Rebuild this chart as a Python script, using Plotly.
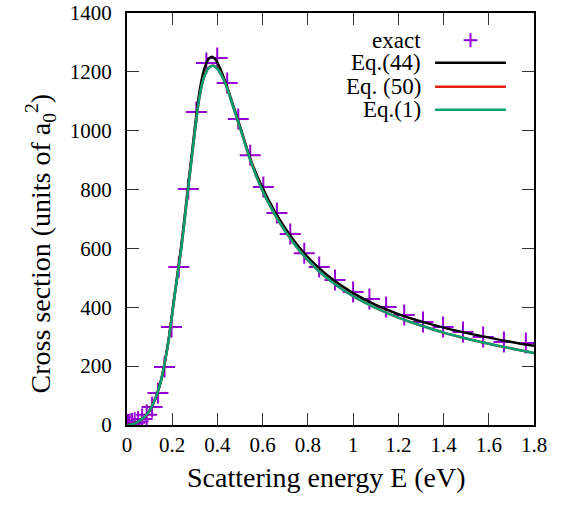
import plotly.graph_objects as go

# ---- data ----
exact_E = [0.0, 0.0014, 0.0054, 0.012, 0.022, 0.034, 0.049, 0.067, 0.087, 0.111, 0.137,
           0.166, 0.197, 0.229, 0.271, 0.307, 0.351, 0.399, 0.443, 0.492, 0.545, 0.603,
           0.663, 0.722, 0.784, 0.850, 0.920, 1.000, 1.072, 1.146, 1.226, 1.309, 1.398,
           1.486, 1.575, 1.667, 1.764]
exact_sigma = [0, 1, 2, 3, 5, 8, 12, 20, 35, 61, 109,
               197, 333, 537, 802, 1064, 1230, 1247, 1162, 1040, 917, 809,
               720, 649, 584, 537, 493, 452, 428, 401, 374, 350, 333,
               316, 299, 282, 279]

eq44_E = [0.0, 0.03, 0.06, 0.09, 0.12, 0.15, 0.18, 0.21, 0.24, 0.27, 0.30, 0.32, 0.34,
          0.36, 0.375, 0.39, 0.41, 0.44, 0.47, 0.50, 0.55, 0.60, 0.65, 0.70, 0.75, 0.80,
          0.85, 0.90, 0.95, 1.00, 1.10, 1.20, 1.30, 1.40, 1.50, 1.60, 1.70, 1.80]
eq44_sigma = [0, 4, 17, 38, 80, 150, 270, 440, 610, 810, 1010, 1130, 1205,
              1243, 1251, 1243, 1215, 1155, 1085, 1015, 895, 805, 730, 668, 615, 570,
              533, 500, 473, 448, 408, 377, 352, 331, 313, 297, 282, 269]

eq1_E = [0.0, 0.03, 0.06, 0.09, 0.12, 0.15, 0.18, 0.21, 0.24, 0.27, 0.30, 0.32, 0.34,
         0.36, 0.38, 0.40, 0.42, 0.44, 0.47, 0.50, 0.55, 0.60, 0.65, 0.70, 0.75, 0.80,
         0.85, 0.90, 0.95, 1.00, 1.10, 1.20, 1.30, 1.40, 1.50, 1.60, 1.70, 1.80]
eq1_sigma = [0, 4, 17, 38, 80, 150, 268, 435, 600, 800, 995, 1112, 1180,
             1212, 1221, 1210, 1185, 1150, 1080, 1010, 890, 795, 720, 658, 605, 560,
             522, 490, 462, 438, 398, 365, 338, 314, 294, 276, 260, 245]
eq50_sigma = [0, 4, 17, 38, 80, 150, 268, 435, 600, 800, 995, 1112, 1181,
              1213, 1222, 1211, 1186, 1150, 1080, 1010, 890, 795, 720, 658, 605, 560,
              522, 490, 462, 438, 398, 365, 338, 314, 294, 276, 260, 245]

x_ticks = [0, 0.2, 0.4, 0.6, 0.8, 1.0, 1.2, 1.4, 1.6, 1.8]
x_ticklabels = ["0", "0.2", "0.4", "0.6", "0.8", "1", "1.2", "1.4", "1.6", "1.8"]
y_ticks = [0, 200, 400, 600, 800, 1000, 1200, 1400]

legend_names = ["exact", "Eq.(44)", "Eq. (50)", "Eq.(1)"]
x_title = "Scattering energy E (eV)"
y_title = "Cross section (units of a<sub>0</sub><sup>2</sup>)"

PURPLE = "#9400d3"
BLACK = "#000000"
RED = "#e51e10"
GREEN = "#009e73"
FONT = "Liberation Serif, Times New Roman, serif"

fig = go.Figure()
fig.add_trace(go.Scatter(x=exact_E, y=exact_sigma, mode="markers", name=legend_names[0],
                         marker=dict(symbol="cross-thin", size=15,
                                     line=dict(color=PURPLE, width=2))))
fig.add_trace(go.Scatter(x=eq44_E, y=eq44_sigma, mode="lines", name=legend_names[1],
                         line=dict(color=BLACK, width=2.5, shape="spline")))
fig.add_trace(go.Scatter(x=eq1_E, y=eq50_sigma, mode="lines", name=legend_names[2],
                         line=dict(color=RED, width=2.5, shape="spline")))
fig.add_trace(go.Scatter(x=eq1_E, y=eq1_sigma, mode="lines", name=legend_names[3],
                         line=dict(color=GREEN, width=2.5, shape="spline")))

# ---- custom gnuplot-style legend (text right, sample on the right) ----
leg_y = [0.934, 0.879, 0.821, 0.765]
leg_colors = [PURPLE, BLACK, RED, GREEN]
for i, name in enumerate(legend_names):
    fig.add_annotation(x=0.728, y=leg_y[i], xref="paper", yref="paper",
                       text=name, showarrow=False, xanchor="right", yanchor="middle",
                       font=dict(family=FONT, size=23, color="black"))
    if i == 0:
        fig.add_shape(type="line", xref="paper", yref="paper",
                      x0=0.844 - 0.017, x1=0.844 + 0.017, y0=leg_y[i], y1=leg_y[i],
                      line=dict(color=PURPLE, width=2))
        fig.add_shape(type="line", xref="paper", yref="paper",
                      x0=0.844, x1=0.844, y0=leg_y[i] - 0.017, y1=leg_y[i] + 0.017,
                      line=dict(color=PURPLE, width=2))
    else:
        fig.add_shape(type="line", xref="paper", yref="paper",
                      x0=0.757, x1=0.931, y0=leg_y[i], y1=leg_y[i],
                      line=dict(color=leg_colors[i], width=2.5))

# axis titles
fig.add_annotation(x=0.491, y=-0.128, xref="paper", yref="paper", text=x_title,
                   showarrow=False, xanchor="center", yanchor="middle",
                   font=dict(family=FONT, size=28, color="black"))
fig.add_annotation(x=-0.212, y=0.44, xref="paper", yref="paper", text=y_title,
                   showarrow=False, xanchor="center", yanchor="middle", textangle=-90,
                   font=dict(family=FONT, size=28, color="black"))

axis_common = dict(showline=True, linecolor="black", linewidth=2, mirror="allticks",
                   ticks="inside", ticklen=12, tickwidth=1.2, tickcolor="#333",
                   showgrid=False, zeroline=False, automargin=False,
                   ticklabeloverflow="allow",
                   tickfont=dict(family=FONT, size=21, color="black"))

fig.update_layout(
    width=562, height=505,
    margin=dict(l=126.5, r=28, t=13, b=80),
    paper_bgcolor="white", plot_bgcolor="white",
    showlegend=False,
    font=dict(family=FONT, size=21, color="black"),
    xaxis=dict(range=[0, 1.8], tickmode="array", tickvals=x_ticks, ticktext=x_ticklabels,
               ticklabelstandoff=0, **axis_common),
    yaxis=dict(range=[0, 1400], tickmode="array", tickvals=y_ticks,
               ticklabelstandoff=9, **axis_common),
)

fig.write_html("out.html", config={"displayModeBar": False},
               post_script="document.body.style.margin='0';")
